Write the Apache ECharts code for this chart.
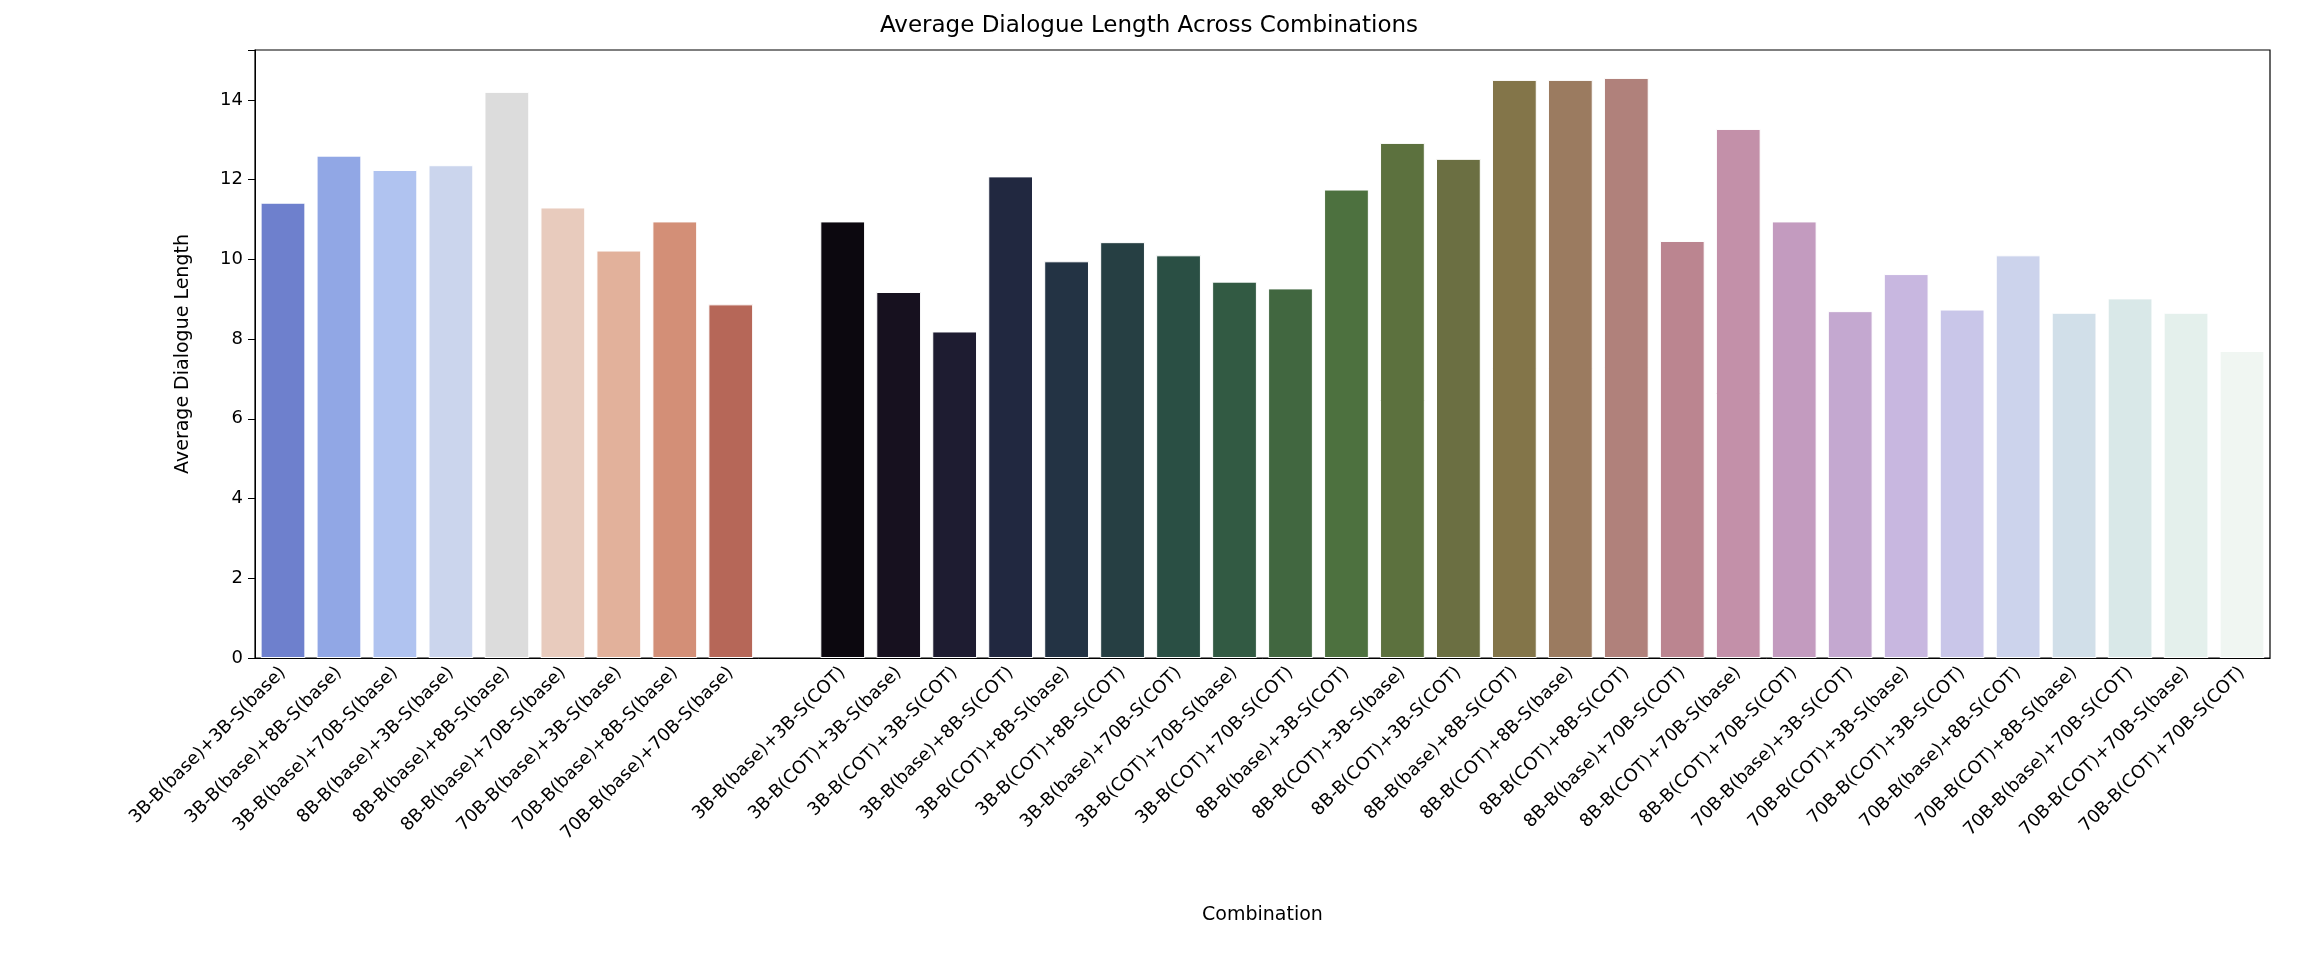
<!DOCTYPE html>
<html><head><meta charset="utf-8">
<script src="https://cdn.jsdelivr.net/npm/echarts@6/dist/echarts.min.js"></script>
<style>html,body{margin:0;padding:0;background:#fff}#c{width:2298px;height:960px}</style>
</head><body><div id="c"></div>
<script>
const categories = ["3B-B(base)+3B-S(base)","3B-B(base)+8B-S(base)","3B-B(base)+70B-S(base)","8B-B(base)+3B-S(base)","8B-B(base)+8B-S(base)","8B-B(base)+70B-S(base)","70B-B(base)+3B-S(base)","70B-B(base)+8B-S(base)","70B-B(base)+70B-S(base)","",
"3B-B(base)+3B-S(COT)","3B-B(COT)+3B-S(base)","3B-B(COT)+3B-S(COT)","3B-B(base)+8B-S(COT)","3B-B(COT)+8B-S(base)","3B-B(COT)+8B-S(COT)","3B-B(base)+70B-S(COT)","3B-B(COT)+70B-S(base)","3B-B(COT)+70B-S(COT)",
"8B-B(base)+3B-S(COT)","8B-B(COT)+3B-S(base)","8B-B(COT)+3B-S(COT)","8B-B(base)+8B-S(COT)","8B-B(COT)+8B-S(base)","8B-B(COT)+8B-S(COT)","8B-B(base)+70B-S(COT)","8B-B(COT)+70B-S(base)","8B-B(COT)+70B-S(COT)",
"70B-B(base)+3B-S(COT)","70B-B(COT)+3B-S(base)","70B-B(COT)+3B-S(COT)","70B-B(base)+8B-S(COT)","70B-B(COT)+8B-S(base)","70B-B(base)+70B-S(COT)","70B-B(COT)+70B-S(base)","70B-B(COT)+70B-S(COT)"];
const values = [11.42,12.6,12.24,12.36,14.2,11.3,10.22,10.95,8.87,null,
10.95,9.18,8.19,12.08,9.95,10.43,10.1,9.44,9.27,11.75,12.92,12.52,14.5,14.5,14.55,10.46,13.27,10.95,8.7,9.63,8.74,10.1,8.66,9.02,8.66,7.7];
const colors = ["#6e80cd","#91a7e5","#b0c3f0","#cbd5ed","#dcdcdc","#e8cbbd","#e2b19b","#d38f77","#b66758","#ffffff",
"#0c080f","#17111f","#1e1c31","#212840","#233344","#263f43","#2a4f44","#325a43","#416740","#4d713f","#5c713e","#6b6f42","#837549","#9b7b60","#b0817b","#bb8590","#c390a9","#c39bbf","#c4a8d0","#c8b7e0","#c9c6e9","#ccd3ec","#d1dfe9","#d9e8e8","#e4f0ec","#f0f6f2"];
const F = "DejaVu Sans";
const chart = echarts.init(document.getElementById('c'));
chart.setOption({
  animation:false,
  title:{text:"Average Dialogue Length Across Combinations",left:'center',top:10,textStyle:{fontFamily:F,fontSize:23,fontWeight:'normal',color:'#000'}},
  grid:{left:255,right:28,top:50,bottom:302,show:true,borderColor:'#000',borderWidth:1.2,backgroundColor:'transparent'},
  xAxis:{type:'category',data:categories,name:'Combination',nameLocation:'middle',nameGap:248,
    nameTextStyle:{fontFamily:F,fontSize:19,color:'#000'},
    axisLine:{lineStyle:{color:'#000'}},axisTick:{alignWithLabel:true,length:7,lineStyle:{color:'#000'}},
    axisLabel:{interval:0,rotate:45,fontFamily:F,fontSize:18,color:'#000',margin:12}},
  yAxis:{type:'value',min:0,max:15.25,interval:2,name:'Average Dialogue Length',nameLocation:'middle',nameGap:62,
    nameTextStyle:{fontFamily:F,fontSize:19,color:'#000'},
    splitLine:{show:false},axisLine:{show:true,lineStyle:{color:'#000'}},
    axisTick:{show:true,length:7,lineStyle:{color:'#000'}},
    axisLabel:{fontFamily:F,fontSize:18,color:'#000',margin:12,formatter:v=>(v%2===0?String(v):'')}},
  series:[{type:'bar',barCategoryGap:'20%',
    data:values.map((v,i)=>({value:v,itemStyle:{color:colors[i]}})),
    itemStyle:{borderColor:'#ffffff',borderWidth:1}}]
});
</script></body></html>
